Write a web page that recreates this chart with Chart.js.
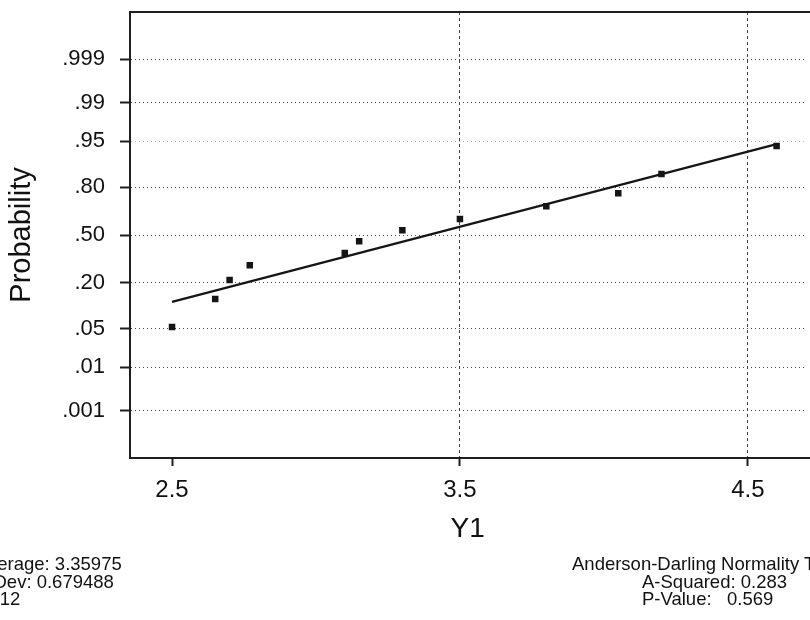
<!DOCTYPE html>
<html><head><meta charset="utf-8">
<script src="https://cdn.jsdelivr.net/npm/chart.js@4.4.1/dist/chart.umd.min.js"></script>
<style>
html,body{margin:0;padding:0;background:#fff;overflow:hidden;width:810px;height:620px;}
#wrap{position:relative;width:810px;height:620px;overflow:hidden;background:#fff;}
canvas{position:absolute;left:0;top:0;}
.t{position:absolute;font-family:"Liberation Sans",Arial,sans-serif;font-size:18.5px;color:#111;white-space:pre;line-height:17.5px;}
</style></head>
<body><div id="wrap"><canvas id="c" width="810" height="620"></canvas>
<div class="t" id="statsL" style="left:-24px;top:555px;"></div>
<div class="t" id="adHead" style="left:572px;top:555px;"></div>
<div class="t" id="adVals" style="left:642px;top:572.5px;"></div>
</div>
<script>
// ---- data ----
const y1Values   = [2.50, 2.65, 2.70, 2.77, 3.10, 3.15, 3.30, 3.50, 3.80, 4.05, 4.20, 4.60];
const probValues = [0.053, 0.130, 0.214, 0.298, 0.375, 0.457, 0.534, 0.610, 0.694, 0.769, 0.858, 0.941];
const fitX = [2.50, 4.60];
const fitP = [0.120, 0.945];
const probTicks  = [0.001, 0.01, 0.05, 0.20, 0.50, 0.80, 0.95, 0.99, 0.999];
const probLabels = ['.001', '.01', '.05', '.20', '.50', '.80', '.95', '.99', '.999'];
const xTicks = [2.5, 3.5, 4.5];
const xTickLabels = ['2.5', '3.5', '4.5'];
const statsLines = ['Average: 3.35975', 'StDev: 0.679488', 'N: 12'];
const adTitle = 'Anderson-Darling Normality Test';
const adLines = ['A-Squared: 0.283', 'P-Value:   0.569'];

document.getElementById('statsL').textContent = statsLines.join('\n');
document.getElementById('adHead').textContent = adTitle;
document.getElementById('adVals').textContent = adLines.join('\n');

// normal quantile (probability scale transform)
function qnorm(p){
  const a=[-3.969683028665376e+01,2.209460984245205e+02,-2.759285104469687e+02,1.383577518672690e+02,-3.066479806614716e+01,2.506628277459239e+00];
  const b=[-5.447609879822406e+01,1.615858368580409e+02,-1.556989798598866e+02,6.680131188771972e+01,-1.328068155288572e+01];
  const c=[-7.784894002430293e-03,-3.223964580411365e-01,-2.400758277161838e+00,-2.549732539343734e+00,4.374664141464968e+00,2.938163982698783e+00];
  const d=[7.784695709041462e-03,3.224671290700398e-01,2.445134137142996e+00,3.754408661907416e+00];
  const pl=0.02425, ph=1-pl; let q,r;
  if(p<pl){q=Math.sqrt(-2*Math.log(p));return (((((c[0]*q+c[1])*q+c[2])*q+c[3])*q+c[4])*q+c[5])/((((d[0]*q+d[1])*q+d[2])*q+d[3])*q+1);}
  if(p<=ph){q=p-0.5;r=q*q;return (((((a[0]*r+a[1])*r+a[2])*r+a[3])*r+a[4])*r+a[5])*q/(((((b[0]*r+b[1])*r+b[2])*r+b[3])*r+b[4])*r+1);}
  q=Math.sqrt(-2*Math.log(1-p));return -(((((c[0]*q+c[1])*q+c[2])*q+c[3])*q+c[4])*q+c[5])/((((d[0]*q+d[1])*q+d[2])*q+d[3])*q+1);
}

const pts = y1Values.map((x,i)=>({x:x, y:qnorm(probValues[i])}));
const fitPts = fitX.map((x,i)=>({x:x, y:qnorm(fitP[i])}));

const frame = {
  id:'frame',
  afterDraw(chart){
    const {ctx, chartArea:a} = chart;
    ctx.save();
    ctx.strokeStyle='#1e1e1e'; ctx.lineWidth=2;
    ctx.beginPath(); ctx.moveTo(a.left-1, a.top); ctx.lineTo(chart.width, a.top); ctx.stroke();
    ctx.beginPath(); ctx.moveTo(a.right-1, a.bottom); ctx.lineTo(chart.width, a.bottom); ctx.stroke();
    ctx.restore();
  }
};

new Chart(document.getElementById('c'), {
  type:'scatter',
  data:{datasets:[
    {type:'line', data:fitPts, borderColor:'#151515', borderWidth:2.2, pointRadius:0, fill:false, tension:0, order:2},
    {data:pts, pointStyle:'rect', pointRadius:4.6, backgroundColor:'#151515', borderColor:'#151515', borderWidth:0, order:1}
  ]},
  plugins:[frame],
  options:{
    responsive:false, animation:false, devicePixelRatio:1,
    layout:{padding:{left:0, right:0, top:12, bottom:0}},
    plugins:{legend:{display:false}, tooltip:{enabled:false}},
    scales:{
      x:{
        type:'linear', min:2.354, max:4.70,
        afterBuildTicks(s){ s.ticks = xTicks.map(v=>({value:v})); },
        afterFit(s){ s.height = 162; s.paddingLeft = 0; s.paddingRight = 0; },
        ticks:{autoSkip:false, maxRotation:0, padding:10, color:'#111',
          font:{family:'"Liberation Sans", Arial, sans-serif', size:24},
          callback:(v,i)=>xTickLabels[i]},
        grid:{color:(c)=> (c.tick && c.tick.value===2.5) ? 'rgba(0,0,0,0)' : '#444',
              tickColor:'#1e1e1e', tickLength:8, tickWidth:2, tickBorderDash:[]},
        border:{display:true, color:'#1e1e1e', width:2, dash:[3,3]},
        title:{display:true, text:'Y1', color:'#111', padding:{top:0,bottom:74},
          font:{family:'"Liberation Sans", Arial, sans-serif', size:28}}
      },
      y:{
        type:'linear', min:-3.92, max:3.92,
        afterBuildTicks(s){ s.ticks = probTicks.map(p=>({value:qnorm(p)})); },
        afterFit(s){ s.width = 130; s.paddingTop = 0; s.paddingBottom = 0; },
        ticks:{autoSkip:false, padding:15, color:'#111',
          font:{family:'"Liberation Sans", Arial, sans-serif', size:22},
          callback:(v,i)=>probLabels[i]},
        grid:{color:(c)=> (c.index===6) ? '#bbbbbb' : '#444',
              tickColor:'#1e1e1e', tickLength:10, tickWidth:2, tickBorderDash:[]},
        border:{display:true, color:'#1e1e1e', width:2, dash:[1,3]},
        title:{display:true, text:'Probability', color:'#111', padding:{top:5,bottom:0},
          font:{family:'"Liberation Sans", Arial, sans-serif', size:29}}
      }
    }
  }
});
</script>
</body></html>
